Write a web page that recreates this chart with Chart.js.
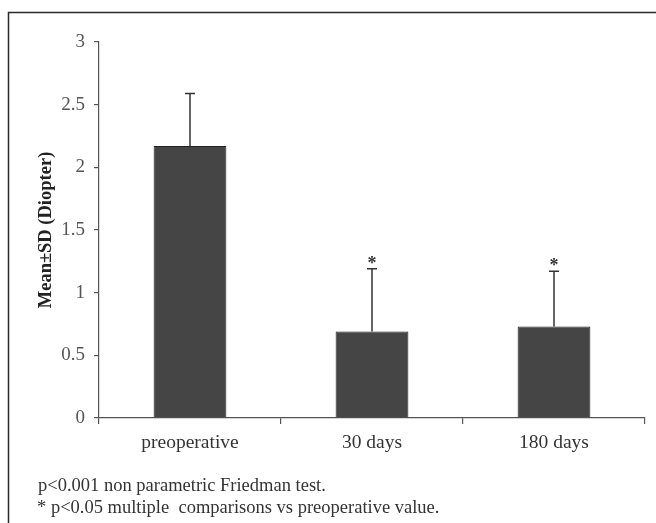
<!DOCTYPE html>
<html>
<head>
<meta charset="utf-8">
<script src="https://cdn.jsdelivr.net/npm/chart.js@4"></script>
<style>
    html, body { margin: 0; padding: 0; background: #fff; }
    #wrap { position: relative; width: 656px; height: 523px; overflow: hidden; }
    #chart { position: absolute; left: 0; top: 0; }
    .note {
        position: absolute;
        font-family: "Liberation Serif", "DejaVu Serif", serif;
        font-size: 18.5px;
        line-height: 22px;
        color: #333;
        white-space: pre;
    }
</style>
</head>
<body>
<div id="wrap">
    <canvas id="chart" width="656" height="523"></canvas>
    <div class="note" id="note1" style="left:38px; top:474px;"></div>
    <div class="note" id="note2" style="left:37px; top:496px;"></div>
</div>
<script>
const categories = ['preoperative', '30 days', '180 days'];
const means = [2.17, 0.69, 0.73];
const sds = [0.42, 0.50, 0.44];
const marks = ['', '*', '*'];
const yTickLabels = ['0', '0.5', '1', '1.5', '2', '2.5', '3'];
const yTitle = 'Mean\u00B1SD (Diopter)';
const notes = [
    'p<0.001 non parametric Friedman test.',
    '* p<0.05 multiple  comparisons vs preoperative value.'
];

document.getElementById('note1').textContent = notes[0];
document.getElementById('note2').textContent = notes[1];

const serif = '"Liberation Serif", "DejaVu Serif", serif';

// frame round the figure (only top and left edges fall inside the picture)
const framePlugin = {
    id: 'frame',
    beforeDraw(chart) {
        const ctx = chart.ctx;
        ctx.save();
        ctx.strokeStyle = '#2a2a2a';
        ctx.lineWidth = 1.5;
        ctx.beginPath();
        ctx.moveTo(8.5, 600);
        ctx.lineTo(8.5, 12.5);
        ctx.lineTo(700, 12.5);
        ctx.stroke();
        ctx.restore();
    }
};

// upper error bars and significance marks
const errorPlugin = {
    id: 'errorBars',
    afterDatasetsDraw(chart) {
        const ctx = chart.ctx;
        const meta = chart.getDatasetMeta(0);
        const y = chart.scales.y;
        ctx.save();
        ctx.strokeStyle = '#333';
        ctx.lineWidth = 1.5;
        meta.data.forEach((bar, i) => {
            const x = bar.x;
            const top = y.getPixelForValue(means[i] + sds[i]);
            ctx.beginPath();
            ctx.moveTo(x, bar.y);
            ctx.lineTo(x, top);
            ctx.moveTo(x - 5, top);
            ctx.lineTo(x + 5, top);
            ctx.stroke();
            if (marks[i]) {
                ctx.fillStyle = '#333';
                ctx.font = 'bold 18px ' + serif;
                ctx.textAlign = 'center';
                ctx.textBaseline = 'middle';
                ctx.fillText(marks[i], x, top - 5);
            }
        });
        ctx.restore();
    }
};

new Chart(document.getElementById('chart'), {
    type: 'bar',
    data: {
        labels: categories,
        datasets: [{
            data: means,
            backgroundColor: '#454545',
            borderColor: '#222',
            borderWidth: 1,
            barPercentage: 0.8,
            categoryPercentage: 0.5
        }]
    },
    options: {
        responsive: false,
        animation: false,
        events: [],
        layout: { padding: { left: 0, right: 11, top: 42, bottom: 0 } },
        plugins: {
            legend: { display: false },
            tooltip: { enabled: false }
        },
        scales: {
            x: {
                grid: {
                    offset: true,
                    drawOnChartArea: false,
                    drawTicks: true,
                    tickLength: 6,
                    color: '#555',
                    lineWidth: 1.2
                },
                border: { display: true, color: '#555', width: 1.2 },
                ticks: {
                    color: '#333',
                    padding: 7,
                    font: { family: serif, size: 19.5 }
                },
                afterFit(scale) { scale.height = 105; }
            },
            y: {
                min: 0,
                max: 3,
                ticks: {
                    stepSize: 0.5,
                    color: '#555',
                    padding: 9,
                    font: { family: serif, size: 19 },
                    callback: (v, i) => yTickLabels[i]
                },
                grid: {
                    drawOnChartArea: false,
                    drawTicks: true,
                    tickLength: 5,
                    color: '#555',
                    lineWidth: 1.2
                },
                border: { display: true, color: '#555', width: 1.2 },
                title: {
                    display: true,
                    text: yTitle,
                    color: '#222',
                    padding: { top: 35, bottom: 0 },
                    font: { family: serif, size: 18.5, weight: 'bold' }
                },
                afterFit(scale) { scale.width = 99; }
            }
        }
    },
    plugins: [framePlugin, errorPlugin]
});
</script>
</body>
</html>
